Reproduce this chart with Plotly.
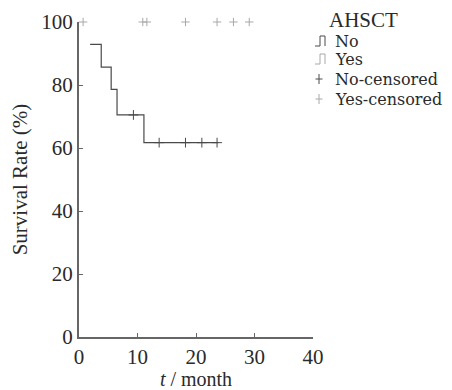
import plotly.graph_objects as go

# Kaplan-Meier step data
no_t = [1.9, 3.8, 5.5, 6.5, 11.1, 23.8]
no_s = [92.9, 85.7, 78.6, 70.5, 61.7, 61.7]
no_cens_t = [9.3, 13.7, 18.2, 21.0, 23.6]
no_cens_s = [70.5, 61.7, 61.7, 61.7, 61.7]
yes_cens_t = [0.7, 10.9, 11.6, 18.2, 23.6, 26.4, 29.1]
yes_cens_s = [100, 100, 100, 100, 100, 100, 100]

x_ticks = [0, 10, 20, 30, 40]
y_ticks = [0, 20, 40, 60, 80, 100]

legend_title = "AHSCT"
legend_labels = ["No", "Yes", "No-censored", "Yes-censored"]

FONT = "Liberation Serif"
LFONT = "DejaVu Serif"
TXT = "#2a2a2a"
DARK = "#4a4a4a"
LIGHT = "#a8a8a8"

W, H = 452, 390
L, R, T, B = 79, 139, 22, 53
PW, PH = W - L - R, H - T - B


def px(x):
    return (x - L) / PW


def py(y):
    return (H - B - y) / PH


fig = go.Figure()
fig.add_trace(go.Scatter(x=no_t, y=no_s, mode="lines", name="No",
                         line=dict(shape="hv", color=DARK, width=1.2)))
fig.add_trace(go.Scatter(x=no_cens_t, y=no_cens_s, mode="markers", name="No-censored",
                         marker=dict(symbol="cross-thin-open", size=7, color=DARK,
                                     line=dict(color=DARK, width=1)),
                         cliponaxis=False))
fig.add_trace(go.Scatter(x=yes_cens_t, y=yes_cens_s, mode="markers", name="Yes-censored",
                         marker=dict(symbol="cross-thin-open", size=6, color=LIGHT,
                                     line=dict(color=LIGHT, width=1)),
                         cliponaxis=False))

axis_common = dict(showgrid=False, zeroline=False, showline=True, linecolor="#666",
                   linewidth=2, ticks="inside", ticklen=4, tickcolor="#666",
                   tickfont=dict(family=FONT, size=21, color=TXT))
fig.update_xaxes(range=[0, 40], tickvals=x_ticks, **axis_common,
                 title=dict(text="<i>t</i> / month", font=dict(family=FONT, size=20, color=TXT),
                            standoff=6))
fig.update_yaxes(range=[0, 100], tickvals=y_ticks, **axis_common,
                 title=dict(text="Survival Rate (%)", font=dict(family=FONT, size=21, color=TXT),
                            standoff=8))

# legend built from text + small icons
annotations = [dict(text=legend_title, x=px(327), y=py(20), xref="paper", yref="paper",
                    xanchor="left", yanchor="middle", showarrow=False,
                    font=dict(family=FONT, size=21, color=TXT))]
row_y = [41, 59, 79, 99]
for lab, ry in zip(legend_labels, row_y):
    annotations.append(dict(text=lab, x=px(333), y=py(ry), xref="paper", yref="paper",
                            xanchor="left", yanchor="middle", showarrow=False,
                            font=dict(family=LFONT, size=16, color=TXT)))

shapes = []
for ry, col in zip(row_y[:2], [DARK, LIGHT]):
    x0, x1, x2 = px(315), px(320), px(325)
    ylo, yhi = py(ry + 5), py(ry - 5)
    shapes.append(dict(type="path", xref="paper", yref="paper",
                       path=f"M {x0} {ylo} L {x1} {ylo} L {x1} {yhi} L {x2} {yhi} L {x2} {ylo}",
                       line=dict(color=col, width=1)))
for ry, col in zip(row_y[2:], [DARK, LIGHT]):
    cx, cy = 319, ry
    shapes.append(dict(type="line", xref="paper", yref="paper", x0=px(cx - 3.5), x1=px(cx + 3.5),
                       y0=py(cy), y1=py(cy), line=dict(color=col, width=1)))
    shapes.append(dict(type="line", xref="paper", yref="paper", x0=px(cx), x1=px(cx),
                       y0=py(cy - 5), y1=py(cy + 5), line=dict(color=col, width=1)))

fig.update_layout(
    width=W, height=H,
    margin=dict(l=L, r=R, t=T, b=B, autoexpand=False),
    plot_bgcolor="white", paper_bgcolor="white",
    font=dict(family=FONT, color=TXT),
    showlegend=False,
    annotations=annotations,
    shapes=shapes,
)

fig.write_html("out.html", config={"displayModeBar": False},
               post_script="document.body.style.margin='0';")
